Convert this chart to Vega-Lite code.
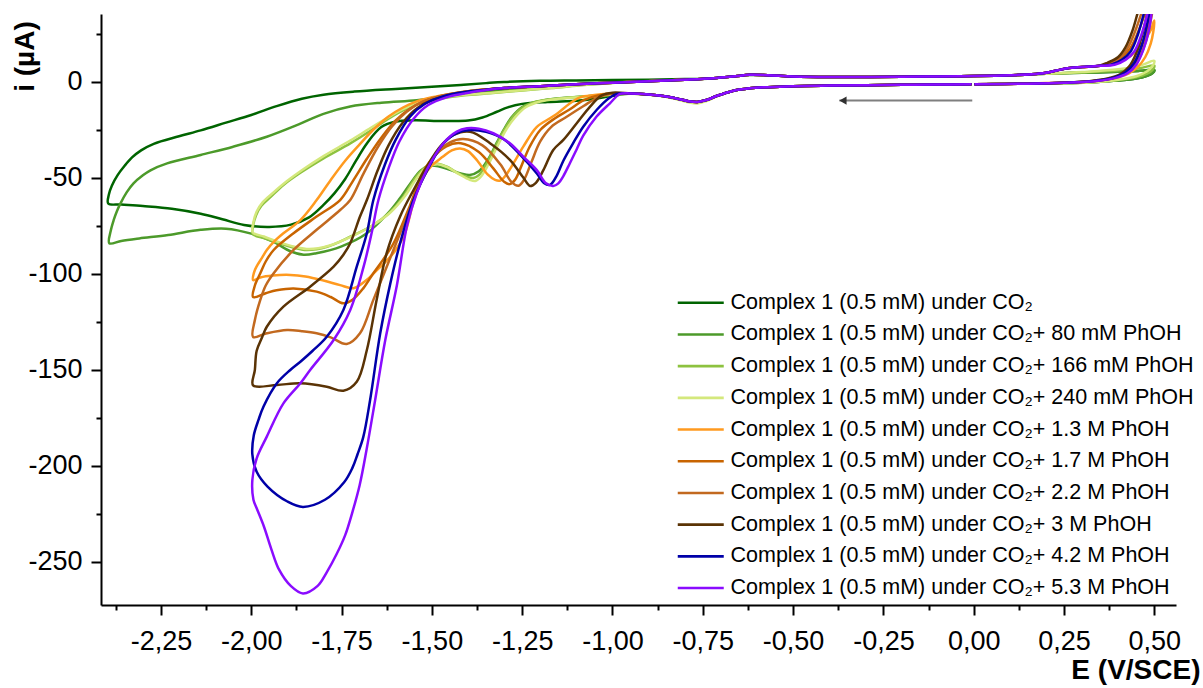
{
"$schema":"https://vega.github.io/schema/vega-lite/v6.json",
"width":1075,"height":591,
"autosize":{"type":"none"},
"padding":{"left":101,"top":14,"right":27,"bottom":83},
"background":"white",
"config":{"view":{"stroke":null},"font":"Liberation Sans","axis":{"grid":false,"domainColor":"#000","tickColor":"#000","labelColor":"#000","titleColor":"#000"}},
"datasets":{
"arrow":[{"x1":-0.004,"x2":-0.372,"xh":-0.362,"y":-9.7}],
"cv":[
{"s":"a","E":-0.006,"i":-1.2},{"s":"a","E":-0.1,"i":-1.3},{"s":"a","E":-0.2,"i":-1.5},{"s":"a","E":-0.3,"i":-1.7},{"s":"a","E":-0.4,"i":-1.9},{"s":"a","E":-0.5,"i":-2.2},{"s":"a","E":-0.57,"i":-2.7},{"s":"a","E":-0.62,"i":-3.3},{"s":"a","E":-0.67,"i":-4.8},{"s":"a","E":-0.71,"i":-7.2},{"s":"a","E":-0.74,"i":-9.4},{"s":"a","E":-0.765,"i":-10.4},{"s":"a","E":-0.79,"i":-10},{"s":"a","E":-0.82,"i":-8.7},{"s":"a","E":-0.86,"i":-7.3},{"s":"a","E":-0.9,"i":-6.5},{"s":"a","E":-0.95,"i":-6},
{"s":"a","E":-1.0,"i":-7.2},{"s":"a","E":-1.05,"i":-8.8},{"s":"a","E":-1.1,"i":-9.8},{"s":"a","E":-1.18,"i":-10.4},{"s":"a","E":-1.25,"i":-11.4},{"s":"a","E":-1.29,"i":-13.2},{"s":"a","E":-1.32,"i":-15.5},{"s":"a","E":-1.36,"i":-18.5},{"s":"a","E":-1.4,"i":-20.1},{"s":"a","E":-1.47,"i":-20.3},{"s":"a","E":-1.55,"i":-20},{"s":"a","E":-1.6,"i":-20.6},{"s":"a","E":-1.64,"i":-23.5},{"s":"a","E":-1.68,"i":-32},{"s":"a","E":-1.71,"i":-41},{"s":"a","E":-1.74,"i":-50.5},{"s":"a","E":-1.77,"i":-58},{"s":"a","E":-1.8,"i":-64},{"s":"a","E":-1.84,"i":-70.5},{"s":"a","E":-1.89,"i":-74.3},{"s":"a","E":-1.95,"i":-75.5},{"s":"a","E":-2.02,"i":-74.5},{"s":"a","E":-2.08,"i":-71.5},{"s":"a","E":-2.14,"i":-68.6},{"s":"a","E":-2.22,"i":-66},{"s":"a","E":-2.3,"i":-64.6},{"s":"a","E":-2.36,"i":-63.8},{"s":"a","E":-2.396,"i":-63.3},
{"s":"a","E":-2.394,"i":-58.5},{"s":"a","E":-2.386,"i":-54},{"s":"a","E":-2.37,"i":-48.5},{"s":"a","E":-2.35,"i":-43.5},{"s":"a","E":-2.33,"i":-39.3},{"s":"a","E":-2.305,"i":-35.6},{"s":"a","E":-2.27,"i":-32.2},{"s":"a","E":-2.2,"i":-28.3},{"s":"a","E":-2.14,"i":-25.2},{"s":"a","E":-2.07,"i":-21.2},{"s":"a","E":-2.0,"i":-17.2},{"s":"a","E":-1.93,"i":-12.6},{"s":"a","E":-1.86,"i":-8.7},{"s":"a","E":-1.8,"i":-6.6},{"s":"a","E":-1.715,"i":-5},{"s":"a","E":-1.6,"i":-3.6},{"s":"a","E":-1.5,"i":-2.5},{"s":"a","E":-1.42,"i":-1.6},{"s":"a","E":-1.35,"i":-0.6},{"s":"a","E":-1.3,"i":0},{"s":"a","E":-1.2,"i":0.6},{"s":"a","E":-1.1,"i":0.8},{"s":"a","E":-1.0,"i":1},{"s":"a","E":-0.9,"i":1.2},{"s":"a","E":-0.8,"i":1.5},{"s":"a","E":-0.72,"i":2},{"s":"a","E":-0.66,"i":3},{"s":"a","E":-0.62,"i":3.6},{"s":"a","E":-0.57,"i":3.5},{"s":"a","E":-0.5,"i":2.9},{"s":"a","E":-0.4,"i":2.6},{"s":"a","E":-0.3,"i":2.6},{"s":"a","E":-0.2,"i":2.7},{"s":"a","E":-0.1,"i":2.9},{"s":"a","E":0,"i":3.1},{"s":"a","E":0.1,"i":3.5},{"s":"a","E":0.16,"i":4},
{"s":"a","E":0.2,"i":4.3},{"s":"a","E":0.3,"i":4.8},{"s":"a","E":0.4,"i":5.3},{"s":"a","E":0.46,"i":5.8},{"s":"a","E":0.5,"i":6.2},{"s":"a","E":0.495,"i":4.6},{"s":"a","E":0.48,"i":3.2},{"s":"a","E":0.45,"i":1.8},{"s":"a","E":0.4,"i":0.7},{"s":"a","E":0.33,"i":-0.1},{"s":"a","E":0.25,"i":-0.6},{"s":"a","E":0.15,"i":-0.9},{"s":"a","E":0.05,"i":-1.1},{"s":"a","E":0.002,"i":-1.2},

{"s":"b","E":-0.006,"i":-1.2},{"s":"b","E":-0.1,"i":-1.3},{"s":"b","E":-0.2,"i":-1.5},{"s":"b","E":-0.3,"i":-1.7},{"s":"b","E":-0.4,"i":-1.9},{"s":"b","E":-0.5,"i":-2.2},{"s":"b","E":-0.57,"i":-2.7},{"s":"b","E":-0.62,"i":-3.3},{"s":"b","E":-0.67,"i":-4.8},{"s":"b","E":-0.71,"i":-7.2},{"s":"b","E":-0.74,"i":-9.4},{"s":"b","E":-0.765,"i":-10.4},{"s":"b","E":-0.79,"i":-10},{"s":"b","E":-0.82,"i":-8.7},{"s":"b","E":-0.86,"i":-7.3},{"s":"b","E":-0.9,"i":-6.5},{"s":"b","E":-0.95,"i":-6},
{"s":"b","E":-1.0,"i":-6.4},{"s":"b","E":-1.08,"i":-7.6},{"s":"b","E":-1.17,"i":-9},{"s":"b","E":-1.22,"i":-10.8},{"s":"b","E":-1.25,"i":-13},{"s":"b","E":-1.28,"i":-18.5},{"s":"b","E":-1.3,"i":-24.5},{"s":"b","E":-1.32,"i":-31.5},{"s":"b","E":-1.345,"i":-40.5},{"s":"b","E":-1.37,"i":-46.5},{"s":"b","E":-1.395,"i":-48.4},{"s":"b","E":-1.42,"i":-47.6},{"s":"b","E":-1.45,"i":-45.8},{"s":"b","E":-1.48,"i":-44},{"s":"b","E":-1.505,"i":-43.6},{"s":"b","E":-1.53,"i":-46},{"s":"b","E":-1.56,"i":-53},{"s":"b","E":-1.59,"i":-61},{"s":"b","E":-1.62,"i":-68},{"s":"b","E":-1.68,"i":-78.8},{"s":"b","E":-1.75,"i":-85.6},{"s":"b","E":-1.82,"i":-89.2},{"s":"b","E":-1.855,"i":-90},{"s":"b","E":-1.89,"i":-88.3},{"s":"b","E":-1.94,"i":-83.2},{"s":"b","E":-2.0,"i":-79},{"s":"b","E":-2.07,"i":-76.4},{"s":"b","E":-2.14,"i":-77},{"s":"b","E":-2.23,"i":-79.7},{"s":"b","E":-2.31,"i":-81.5},{"s":"b","E":-2.36,"i":-82.8},{"s":"b","E":-2.393,"i":-84},
{"s":"b","E":-2.389,"i":-77.5},{"s":"b","E":-2.381,"i":-72},{"s":"b","E":-2.372,"i":-67.3},{"s":"b","E":-2.362,"i":-63.2},{"s":"b","E":-2.345,"i":-57.5},{"s":"b","E":-2.326,"i":-52.8},{"s":"b","E":-2.3,"i":-48.6},{"s":"b","E":-2.279,"i":-46},{"s":"b","E":-2.233,"i":-42.4},{"s":"b","E":-2.14,"i":-38},{"s":"b","E":-2.05,"i":-33.7},{"s":"b","E":-1.957,"i":-28.5},{"s":"b","E":-1.864,"i":-21.7},{"s":"b","E":-1.8,"i":-16.6},{"s":"b","E":-1.726,"i":-12.8},{"s":"b","E":-1.64,"i":-10.8},{"s":"b","E":-1.542,"i":-9.5},{"s":"b","E":-1.45,"i":-7.5},{"s":"b","E":-1.35,"i":-5.3},{"s":"b","E":-1.25,"i":-3.3},{"s":"b","E":-1.15,"i":-1.8},{"s":"b","E":-1.05,"i":-0.7},{"s":"b","E":-0.95,"i":0.1},{"s":"b","E":-0.85,"i":0.9},{"s":"b","E":-0.8,"i":1.2},{"s":"b","E":-0.72,"i":2},{"s":"b","E":-0.66,"i":3},{"s":"b","E":-0.62,"i":3.7},{"s":"b","E":-0.57,"i":3.5},{"s":"b","E":-0.5,"i":2.9},{"s":"b","E":-0.4,"i":2.6},{"s":"b","E":-0.3,"i":2.6},{"s":"b","E":-0.2,"i":2.7},{"s":"b","E":-0.1,"i":2.9},{"s":"b","E":0,"i":3.1},{"s":"b","E":0.1,"i":3.5},{"s":"b","E":0.16,"i":4},
{"s":"b","E":0.2,"i":4.3},{"s":"b","E":0.3,"i":4.8},{"s":"b","E":0.4,"i":5.3},{"s":"b","E":0.46,"i":5.8},{"s":"b","E":0.5,"i":6.2},{"s":"b","E":0.495,"i":4.6},{"s":"b","E":0.48,"i":3.2},{"s":"b","E":0.45,"i":1.8},{"s":"b","E":0.4,"i":0.7},{"s":"b","E":0.33,"i":-0.1},{"s":"b","E":0.25,"i":-0.6},{"s":"b","E":0.15,"i":-0.9},{"s":"b","E":0.05,"i":-1.1},{"s":"b","E":0.002,"i":-1.2},

{"s":"c","E":-0.006,"i":-1.2},{"s":"c","E":-0.1,"i":-1.3},{"s":"c","E":-0.2,"i":-1.5},{"s":"c","E":-0.3,"i":-1.7},{"s":"c","E":-0.4,"i":-1.9},{"s":"c","E":-0.5,"i":-2.2},{"s":"c","E":-0.57,"i":-2.7},{"s":"c","E":-0.62,"i":-3.3},{"s":"c","E":-0.67,"i":-4.8},{"s":"c","E":-0.71,"i":-7.2},{"s":"c","E":-0.74,"i":-9.6},{"s":"c","E":-0.765,"i":-10.8},{"s":"c","E":-0.79,"i":-10.3},{"s":"c","E":-0.82,"i":-8.9},{"s":"c","E":-0.86,"i":-7.4},{"s":"c","E":-0.9,"i":-6.5},{"s":"c","E":-0.95,"i":-6},
{"s":"c","E":-1.0,"i":-6.4},{"s":"c","E":-1.08,"i":-7.6},{"s":"c","E":-1.15,"i":-8.6},{"s":"c","E":-1.21,"i":-10.2},{"s":"c","E":-1.25,"i":-13.5},{"s":"c","E":-1.28,"i":-19},{"s":"c","E":-1.3,"i":-25},{"s":"c","E":-1.325,"i":-34},{"s":"c","E":-1.35,"i":-43},{"s":"c","E":-1.37,"i":-48.5},{"s":"c","E":-1.385,"i":-50},{"s":"c","E":-1.4,"i":-49.6},{"s":"c","E":-1.43,"i":-47.2},{"s":"c","E":-1.46,"i":-44},{"s":"c","E":-1.49,"i":-42.4},{"s":"c","E":-1.52,"i":-44.5},{"s":"c","E":-1.55,"i":-51},{"s":"c","E":-1.58,"i":-60},{"s":"c","E":-1.62,"i":-68.5},{"s":"c","E":-1.662,"i":-74.5},{"s":"c","E":-1.726,"i":-80.6},{"s":"c","E":-1.79,"i":-85.8},{"s":"c","E":-1.846,"i":-87.5},{"s":"c","E":-1.885,"i":-86.2},{"s":"c","E":-1.93,"i":-83.5},{"s":"c","E":-1.965,"i":-81.3},{"s":"c","E":-1.996,"i":-79.2},
{"s":"c","E":-1.995,"i":-75},{"s":"c","E":-1.987,"i":-69.5},{"s":"c","E":-1.972,"i":-64.5},{"s":"c","E":-1.947,"i":-60},{"s":"c","E":-1.91,"i":-53.5},{"s":"c","E":-1.864,"i":-47.3},{"s":"c","E":-1.8,"i":-39.8},{"s":"c","E":-1.726,"i":-32},{"s":"c","E":-1.67,"i":-25.4},{"s":"c","E":-1.634,"i":-20.8},{"s":"c","E":-1.588,"i":-15.6},{"s":"c","E":-1.542,"i":-11.6},{"s":"c","E":-1.5,"i":-9.6},{"s":"c","E":-1.449,"i":-7.8},{"s":"c","E":-1.39,"i":-6.6},{"s":"c","E":-1.339,"i":-5.9},{"s":"c","E":-1.25,"i":-4.4},{"s":"c","E":-1.17,"i":-3.2},{"s":"c","E":-1.08,"i":-1.6},{"s":"c","E":-1.0,"i":-0.5},{"s":"c","E":-0.9,"i":0.4},{"s":"c","E":-0.8,"i":1.2},{"s":"c","E":-0.72,"i":2},{"s":"c","E":-0.66,"i":3},{"s":"c","E":-0.62,"i":3.7},{"s":"c","E":-0.57,"i":3.5},{"s":"c","E":-0.5,"i":2.9},{"s":"c","E":-0.4,"i":2.6},{"s":"c","E":-0.3,"i":2.6},{"s":"c","E":-0.2,"i":2.7},{"s":"c","E":-0.1,"i":2.9},{"s":"c","E":0,"i":3.1},{"s":"c","E":0.1,"i":3.5},{"s":"c","E":0.16,"i":4},
{"s":"c","E":0.2,"i":4.3},{"s":"c","E":0.3,"i":5},{"s":"c","E":0.4,"i":6},{"s":"c","E":0.46,"i":7.2},{"s":"c","E":0.5,"i":8.5},{"s":"c","E":0.495,"i":6.3},{"s":"c","E":0.48,"i":4.3},{"s":"c","E":0.45,"i":2.4},{"s":"c","E":0.4,"i":1},{"s":"c","E":0.33,"i":-0.1},{"s":"c","E":0.25,"i":-0.6},{"s":"c","E":0.15,"i":-0.9},{"s":"c","E":0.05,"i":-1.1},{"s":"c","E":0.002,"i":-1.2},

{"s":"d","E":-0.006,"i":-1.2},{"s":"d","E":-0.1,"i":-1.3},{"s":"d","E":-0.2,"i":-1.5},{"s":"d","E":-0.3,"i":-1.7},{"s":"d","E":-0.4,"i":-1.9},{"s":"d","E":-0.5,"i":-2.2},{"s":"d","E":-0.57,"i":-2.7},{"s":"d","E":-0.62,"i":-3.3},{"s":"d","E":-0.67,"i":-4.8},{"s":"d","E":-0.71,"i":-7.4},{"s":"d","E":-0.74,"i":-9.9},{"s":"d","E":-0.765,"i":-11.2},{"s":"d","E":-0.79,"i":-10.6},{"s":"d","E":-0.82,"i":-9.1},{"s":"d","E":-0.86,"i":-7.5},{"s":"d","E":-0.9,"i":-6.6},{"s":"d","E":-0.95,"i":-6.1},
{"s":"d","E":-1.0,"i":-6.6},{"s":"d","E":-1.08,"i":-7.8},{"s":"d","E":-1.15,"i":-8.8},{"s":"d","E":-1.2,"i":-10.2},{"s":"d","E":-1.24,"i":-13.2},{"s":"d","E":-1.27,"i":-18.5},{"s":"d","E":-1.295,"i":-25},{"s":"d","E":-1.32,"i":-34},{"s":"d","E":-1.345,"i":-43.5},{"s":"d","E":-1.365,"i":-49.5},{"s":"d","E":-1.38,"i":-51.6},{"s":"d","E":-1.395,"i":-51},{"s":"d","E":-1.425,"i":-48},{"s":"d","E":-1.455,"i":-44.6},{"s":"d","E":-1.485,"i":-42.8},{"s":"d","E":-1.515,"i":-44.6},{"s":"d","E":-1.545,"i":-51},{"s":"d","E":-1.575,"i":-59.5},{"s":"d","E":-1.615,"i":-68},{"s":"d","E":-1.66,"i":-74.2},{"s":"d","E":-1.72,"i":-80.3},{"s":"d","E":-1.785,"i":-85.3},{"s":"d","E":-1.84,"i":-87},{"s":"d","E":-1.88,"i":-85.8},{"s":"d","E":-1.93,"i":-83},{"s":"d","E":-1.965,"i":-80.5},{"s":"d","E":-1.996,"i":-78.3},
{"s":"d","E":-1.994,"i":-73},{"s":"d","E":-1.985,"i":-67.5},{"s":"d","E":-1.968,"i":-62.6},{"s":"d","E":-1.94,"i":-57.8},{"s":"d","E":-1.9,"i":-51.5},{"s":"d","E":-1.86,"i":-46},{"s":"d","E":-1.8,"i":-38.6},{"s":"d","E":-1.726,"i":-30.5},{"s":"d","E":-1.67,"i":-24},{"s":"d","E":-1.63,"i":-19.5},{"s":"d","E":-1.585,"i":-14.6},{"s":"d","E":-1.54,"i":-11},{"s":"d","E":-1.5,"i":-9.2},{"s":"d","E":-1.449,"i":-7.5},{"s":"d","E":-1.39,"i":-6.4},{"s":"d","E":-1.339,"i":-5.7},{"s":"d","E":-1.25,"i":-4.3},{"s":"d","E":-1.17,"i":-3.1},{"s":"d","E":-1.08,"i":-1.5},{"s":"d","E":-1.0,"i":-0.4},{"s":"d","E":-0.9,"i":0.4},{"s":"d","E":-0.8,"i":1.2},{"s":"d","E":-0.72,"i":2},{"s":"d","E":-0.66,"i":3},{"s":"d","E":-0.62,"i":3.7},{"s":"d","E":-0.57,"i":3.5},{"s":"d","E":-0.5,"i":2.9},{"s":"d","E":-0.4,"i":2.6},{"s":"d","E":-0.3,"i":2.6},{"s":"d","E":-0.2,"i":2.7},{"s":"d","E":-0.1,"i":2.9},{"s":"d","E":0,"i":3.1},{"s":"d","E":0.1,"i":3.5},{"s":"d","E":0.16,"i":4},
{"s":"d","E":0.2,"i":4.3},{"s":"d","E":0.3,"i":5.2},{"s":"d","E":0.4,"i":6.6},{"s":"d","E":0.46,"i":8.5},{"s":"d","E":0.5,"i":11},{"s":"d","E":0.495,"i":8.3},{"s":"d","E":0.48,"i":5.6},{"s":"d","E":0.45,"i":3},{"s":"d","E":0.4,"i":1.2},{"s":"d","E":0.33,"i":-0.1},{"s":"d","E":0.25,"i":-0.6},{"s":"d","E":0.15,"i":-0.9},{"s":"d","E":0.05,"i":-1.1},{"s":"d","E":0.002,"i":-1.2},

{"s":"e","E":-0.006,"i":-1.2},{"s":"e","E":-0.1,"i":-1.3},{"s":"e","E":-0.2,"i":-1.5},{"s":"e","E":-0.3,"i":-1.7},{"s":"e","E":-0.4,"i":-1.9},{"s":"e","E":-0.5,"i":-2.2},{"s":"e","E":-0.57,"i":-2.7},{"s":"e","E":-0.62,"i":-3.3},{"s":"e","E":-0.67,"i":-4.8},{"s":"e","E":-0.71,"i":-7.2},{"s":"e","E":-0.74,"i":-9.4},{"s":"e","E":-0.765,"i":-10.4},{"s":"e","E":-0.79,"i":-10},{"s":"e","E":-0.82,"i":-8.7},{"s":"e","E":-0.86,"i":-7.3},{"s":"e","E":-0.9,"i":-6.5},{"s":"e","E":-0.95,"i":-6},
{"s":"e","E":-1.0,"i":-6},{"s":"e","E":-1.05,"i":-6.8},{"s":"e","E":-1.09,"i":-8},{"s":"e","E":-1.12,"i":-11.5},{"s":"e","E":-1.15,"i":-16},{"s":"e","E":-1.173,"i":-18.9},{"s":"e","E":-1.21,"i":-23.5},{"s":"e","E":-1.247,"i":-33.7},{"s":"e","E":-1.274,"i":-42.3},{"s":"e","E":-1.295,"i":-48.5},{"s":"e","E":-1.31,"i":-51.3},{"s":"e","E":-1.325,"i":-51},{"s":"e","E":-1.345,"i":-48.3},{"s":"e","E":-1.376,"i":-40.6},{"s":"e","E":-1.4,"i":-36},{"s":"e","E":-1.422,"i":-34.6},{"s":"e","E":-1.445,"i":-35.6},{"s":"e","E":-1.47,"i":-39},{"s":"e","E":-1.5,"i":-43.5},{"s":"e","E":-1.525,"i":-50},{"s":"e","E":-1.55,"i":-62},{"s":"e","E":-1.575,"i":-79},{"s":"e","E":-1.6,"i":-87.5},{"s":"e","E":-1.625,"i":-93},{"s":"e","E":-1.655,"i":-98.5},{"s":"e","E":-1.68,"i":-103},{"s":"e","E":-1.717,"i":-107.4},{"s":"e","E":-1.754,"i":-105.8},{"s":"e","E":-1.8,"i":-103.4},{"s":"e","E":-1.85,"i":-101.3},{"s":"e","E":-1.892,"i":-100.5},{"s":"e","E":-1.94,"i":-100.8},{"s":"e","E":-1.975,"i":-101.8},{"s":"e","E":-1.995,"i":-103.2},
{"s":"e","E":-1.992,"i":-99},{"s":"e","E":-1.985,"i":-96},{"s":"e","E":-1.97,"i":-91.5},{"s":"e","E":-1.957,"i":-87.5},{"s":"e","E":-1.935,"i":-82.8},{"s":"e","E":-1.911,"i":-78.8},{"s":"e","E":-1.864,"i":-71.9},{"s":"e","E":-1.819,"i":-61.5},{"s":"e","E":-1.78,"i":-51},{"s":"e","E":-1.74,"i":-41},{"s":"e","E":-1.7,"i":-32.5},{"s":"e","E":-1.66,"i":-24.5},{"s":"e","E":-1.62,"i":-18},{"s":"e","E":-1.58,"i":-13.3},{"s":"e","E":-1.54,"i":-10},{"s":"e","E":-1.5,"i":-8},{"s":"e","E":-1.45,"i":-6.2},{"s":"e","E":-1.4,"i":-4.8},{"s":"e","E":-1.35,"i":-3.8},
{"s":"e","E":-1.3,"i":-3.2},{"s":"e","E":-1.2,"i":-2.2},{"s":"e","E":-1.1,"i":-1.2},{"s":"e","E":-1.0,"i":-0.4},{"s":"e","E":-0.9,"i":0.4},{"s":"e","E":-0.8,"i":1.2},{"s":"e","E":-0.72,"i":2},{"s":"e","E":-0.66,"i":3},{"s":"e","E":-0.62,"i":3.7},{"s":"e","E":-0.57,"i":3.5},{"s":"e","E":-0.5,"i":2.9},{"s":"e","E":-0.4,"i":2.6},{"s":"e","E":-0.3,"i":2.6},{"s":"e","E":-0.2,"i":2.7},{"s":"e","E":-0.1,"i":2.9},{"s":"e","E":0,"i":3.1},{"s":"e","E":0.1,"i":3.5},{"s":"e","E":0.16,"i":4},
{"s":"e","E":0.2,"i":4.8},{"s":"e","E":0.23,"i":6},{"s":"e","E":0.26,"i":7.2},{"s":"e","E":0.3,"i":7.8},{"s":"e","E":0.35,"i":8.4},{"s":"e","E":0.38,"i":9.5},{"s":"e","E":0.42,"i":12},{"s":"e","E":0.45,"i":16},{"s":"e","E":0.47,"i":21},{"s":"e","E":0.49,"i":27},{"s":"e","E":0.5,"i":32},{"s":"e","E":0.497,"i":26},{"s":"e","E":0.49,"i":20},{"s":"e","E":0.475,"i":13},{"s":"e","E":0.455,"i":8},{"s":"e","E":0.43,"i":4.5},{"s":"e","E":0.4,"i":2.5},{"s":"e","E":0.35,"i":0.8},{"s":"e","E":0.28,"i":-0.2},{"s":"e","E":0.2,"i":-0.6},{"s":"e","E":0.1,"i":-1},{"s":"e","E":0.002,"i":-1.2},

{"s":"f","E":-0.006,"i":-1.2},{"s":"f","E":-0.1,"i":-1.3},{"s":"f","E":-0.2,"i":-1.5},{"s":"f","E":-0.3,"i":-1.7},{"s":"f","E":-0.4,"i":-1.9},{"s":"f","E":-0.5,"i":-2.2},{"s":"f","E":-0.57,"i":-2.7},{"s":"f","E":-0.62,"i":-3.3},{"s":"f","E":-0.67,"i":-4.8},{"s":"f","E":-0.71,"i":-7.2},{"s":"f","E":-0.74,"i":-9.4},{"s":"f","E":-0.765,"i":-10.4},{"s":"f","E":-0.79,"i":-10},{"s":"f","E":-0.82,"i":-8.7},{"s":"f","E":-0.86,"i":-7.3},{"s":"f","E":-0.9,"i":-6.5},{"s":"f","E":-0.95,"i":-6},
{"s":"f","E":-1.0,"i":-6},{"s":"f","E":-1.04,"i":-7},{"s":"f","E":-1.08,"i":-9.5},{"s":"f","E":-1.12,"i":-14.5},{"s":"f","E":-1.16,"i":-19},{"s":"f","E":-1.2,"i":-25},{"s":"f","E":-1.23,"i":-34},{"s":"f","E":-1.255,"i":-45},{"s":"f","E":-1.27,"i":-51},{"s":"f","E":-1.285,"i":-53.2},{"s":"f","E":-1.3,"i":-52},{"s":"f","E":-1.33,"i":-45},{"s":"f","E":-1.37,"i":-36.5},{"s":"f","E":-1.42,"i":-31.9},{"s":"f","E":-1.46,"i":-33.5},{"s":"f","E":-1.5,"i":-40},{"s":"f","E":-1.53,"i":-49},{"s":"f","E":-1.56,"i":-64},{"s":"f","E":-1.606,"i":-84},{"s":"f","E":-1.635,"i":-92.5},{"s":"f","E":-1.662,"i":-99.6},{"s":"f","E":-1.69,"i":-107.5},{"s":"f","E":-1.72,"i":-113.5},{"s":"f","E":-1.745,"i":-115.3},{"s":"f","E":-1.78,"i":-112},{"s":"f","E":-1.819,"i":-109.2},{"s":"f","E":-1.883,"i":-107.5},{"s":"f","E":-1.93,"i":-108.5},{"s":"f","E":-1.96,"i":-110},{"s":"f","E":-1.995,"i":-112},
{"s":"f","E":-1.99,"i":-106},{"s":"f","E":-1.975,"i":-99.6},{"s":"f","E":-1.96,"i":-93.5},{"s":"f","E":-1.938,"i":-87.5},{"s":"f","E":-1.883,"i":-78.8},{"s":"f","E":-1.819,"i":-70.1},{"s":"f","E":-1.754,"i":-61.5},{"s":"f","E":-1.72,"i":-52},{"s":"f","E":-1.68,"i":-40},{"s":"f","E":-1.64,"i":-29},{"s":"f","E":-1.6,"i":-20},{"s":"f","E":-1.56,"i":-13.8},{"s":"f","E":-1.52,"i":-10},{"s":"f","E":-1.47,"i":-7.2},{"s":"f","E":-1.41,"i":-5.2},{"s":"f","E":-1.35,"i":-3.9},
{"s":"f","E":-1.3,"i":-3.2},{"s":"f","E":-1.2,"i":-2.2},{"s":"f","E":-1.1,"i":-1.2},{"s":"f","E":-1.0,"i":-0.4},{"s":"f","E":-0.9,"i":0.4},{"s":"f","E":-0.8,"i":1.2},{"s":"f","E":-0.72,"i":2},{"s":"f","E":-0.66,"i":3},{"s":"f","E":-0.62,"i":3.7},{"s":"f","E":-0.57,"i":3.5},{"s":"f","E":-0.5,"i":2.9},{"s":"f","E":-0.4,"i":2.6},{"s":"f","E":-0.3,"i":2.6},{"s":"f","E":-0.2,"i":2.7},{"s":"f","E":-0.1,"i":2.9},{"s":"f","E":0,"i":3.1},{"s":"f","E":0.1,"i":3.5},{"s":"f","E":0.16,"i":4},
{"s":"f","E":0.2,"i":4.8},{"s":"f","E":0.23,"i":6},{"s":"f","E":0.26,"i":7.2},{"s":"f","E":0.3,"i":7.8},{"s":"f","E":0.35,"i":8.4},{"s":"f","E":0.38,"i":9.5},{"s":"f","E":0.41,"i":12.5},{"s":"f","E":0.435,"i":18},{"s":"f","E":0.455,"i":26},{"s":"f","E":0.475,"i":36},{"s":"f","E":0.5,"i":48},{"s":"f","E":0.497,"i":40},{"s":"f","E":0.49,"i":32},{"s":"f","E":0.478,"i":22},{"s":"f","E":0.46,"i":13},{"s":"f","E":0.44,"i":7},{"s":"f","E":0.415,"i":3.8},{"s":"f","E":0.38,"i":1.8},{"s":"f","E":0.33,"i":0.4},{"s":"f","E":0.25,"i":-0.4},{"s":"f","E":0.15,"i":-0.9},{"s":"f","E":0.002,"i":-1.2},

{"s":"g","E":-0.006,"i":-1.2},{"s":"g","E":-0.1,"i":-1.3},{"s":"g","E":-0.2,"i":-1.5},{"s":"g","E":-0.3,"i":-1.7},{"s":"g","E":-0.4,"i":-1.9},{"s":"g","E":-0.5,"i":-2.2},{"s":"g","E":-0.57,"i":-2.7},{"s":"g","E":-0.62,"i":-3.3},{"s":"g","E":-0.67,"i":-4.8},{"s":"g","E":-0.71,"i":-7.2},{"s":"g","E":-0.74,"i":-9.4},{"s":"g","E":-0.765,"i":-10.4},{"s":"g","E":-0.79,"i":-10},{"s":"g","E":-0.82,"i":-8.7},{"s":"g","E":-0.86,"i":-7.3},{"s":"g","E":-0.9,"i":-6.5},{"s":"g","E":-0.95,"i":-6},
{"s":"g","E":-1.0,"i":-6},{"s":"g","E":-1.04,"i":-8},{"s":"g","E":-1.08,"i":-12.5},{"s":"g","E":-1.13,"i":-18.5},{"s":"g","E":-1.17,"i":-23.5},{"s":"g","E":-1.2,"i":-31},{"s":"g","E":-1.225,"i":-42},{"s":"g","E":-1.245,"i":-51},{"s":"g","E":-1.26,"i":-54},{"s":"g","E":-1.28,"i":-52},{"s":"g","E":-1.31,"i":-43},{"s":"g","E":-1.36,"i":-33},{"s":"g","E":-1.413,"i":-29.7},{"s":"g","E":-1.45,"i":-31.5},{"s":"g","E":-1.49,"i":-38},{"s":"g","E":-1.52,"i":-48},{"s":"g","E":-1.551,"i":-61.5},{"s":"g","E":-1.588,"i":-78.8},{"s":"g","E":-1.625,"i":-96.2},{"s":"g","E":-1.662,"i":-113.5},{"s":"g","E":-1.699,"i":-130.9},{"s":"g","E":-1.736,"i":-136.5},{"s":"g","E":-1.78,"i":-133},{"s":"g","E":-1.819,"i":-130.9},{"s":"g","E":-1.86,"i":-129.8},{"s":"g","E":-1.901,"i":-129.2},{"s":"g","E":-1.957,"i":-130.9},{"s":"g","E":-1.995,"i":-132.8},
{"s":"g","E":-1.99,"i":-124},{"s":"g","E":-1.975,"i":-113.5},{"s":"g","E":-1.96,"i":-106},{"s":"g","E":-1.938,"i":-99.6},{"s":"g","E":-1.883,"i":-87.5},{"s":"g","E":-1.819,"i":-77},{"s":"g","E":-1.754,"i":-66.7},{"s":"g","E":-1.726,"i":-61.5},{"s":"g","E":-1.69,"i":-48},{"s":"g","E":-1.65,"i":-34},{"s":"g","E":-1.61,"i":-23},{"s":"g","E":-1.57,"i":-15.5},{"s":"g","E":-1.53,"i":-10.6},{"s":"g","E":-1.48,"i":-7.5},{"s":"g","E":-1.42,"i":-5.3},{"s":"g","E":-1.35,"i":-3.9},
{"s":"g","E":-1.3,"i":-3.2},{"s":"g","E":-1.2,"i":-2.2},{"s":"g","E":-1.1,"i":-1.2},{"s":"g","E":-1.0,"i":-0.4},{"s":"g","E":-0.9,"i":0.4},{"s":"g","E":-0.8,"i":1.2},{"s":"g","E":-0.72,"i":2},{"s":"g","E":-0.66,"i":3},{"s":"g","E":-0.62,"i":3.7},{"s":"g","E":-0.57,"i":3.5},{"s":"g","E":-0.5,"i":2.9},{"s":"g","E":-0.4,"i":2.6},{"s":"g","E":-0.3,"i":2.6},{"s":"g","E":-0.2,"i":2.7},{"s":"g","E":-0.1,"i":2.9},{"s":"g","E":0,"i":3.1},{"s":"g","E":0.1,"i":3.5},{"s":"g","E":0.16,"i":4},
{"s":"g","E":0.2,"i":4.8},{"s":"g","E":0.23,"i":6},{"s":"g","E":0.26,"i":7.2},{"s":"g","E":0.3,"i":7.8},{"s":"g","E":0.35,"i":8.4},{"s":"g","E":0.38,"i":10},{"s":"g","E":0.41,"i":13.5},{"s":"g","E":0.43,"i":19},{"s":"g","E":0.45,"i":28},{"s":"g","E":0.47,"i":39},{"s":"g","E":0.5,"i":55},{"s":"g","E":0.497,"i":45},{"s":"g","E":0.49,"i":36},{"s":"g","E":0.475,"i":24},{"s":"g","E":0.455,"i":14},{"s":"g","E":0.435,"i":7.5},{"s":"g","E":0.41,"i":4},{"s":"g","E":0.38,"i":2},{"s":"g","E":0.33,"i":0.5},{"s":"g","E":0.25,"i":-0.4},{"s":"g","E":0.15,"i":-0.9},{"s":"g","E":0.002,"i":-1.2},

{"s":"h","E":-0.006,"i":-1.2},{"s":"h","E":-0.1,"i":-1.3},{"s":"h","E":-0.2,"i":-1.5},{"s":"h","E":-0.3,"i":-1.7},{"s":"h","E":-0.4,"i":-1.9},{"s":"h","E":-0.5,"i":-2.2},{"s":"h","E":-0.57,"i":-2.7},{"s":"h","E":-0.62,"i":-3.3},{"s":"h","E":-0.67,"i":-4.8},{"s":"h","E":-0.71,"i":-7.2},{"s":"h","E":-0.74,"i":-9.4},{"s":"h","E":-0.765,"i":-10.4},{"s":"h","E":-0.79,"i":-10},{"s":"h","E":-0.82,"i":-8.7},{"s":"h","E":-0.86,"i":-7.3},{"s":"h","E":-0.9,"i":-6.5},{"s":"h","E":-0.95,"i":-6},
{"s":"h","E":-1.0,"i":-5.6},{"s":"h","E":-1.03,"i":-7},{"s":"h","E":-1.062,"i":-12.8},{"s":"h","E":-1.099,"i":-21.5},{"s":"h","E":-1.136,"i":-30.2},{"s":"h","E":-1.164,"i":-35.4},{"s":"h","E":-1.191,"i":-45.8},{"s":"h","E":-1.212,"i":-52.5},{"s":"h","E":-1.228,"i":-54.2},{"s":"h","E":-1.247,"i":-49.8},{"s":"h","E":-1.284,"i":-40.6},{"s":"h","E":-1.339,"i":-31.9},{"s":"h","E":-1.394,"i":-25.9},{"s":"h","E":-1.44,"i":-27.6},{"s":"h","E":-1.477,"i":-33.7},{"s":"h","E":-1.514,"i":-44.1},{"s":"h","E":-1.55,"i":-56},{"s":"h","E":-1.588,"i":-70},{"s":"h","E":-1.625,"i":-89},{"s":"h","E":-1.653,"i":-113.5},{"s":"h","E":-1.68,"i":-139.6},{"s":"h","E":-1.708,"i":-156.1},{"s":"h","E":-1.745,"i":-160.8},{"s":"h","E":-1.791,"i":-158.7},{"s":"h","E":-1.864,"i":-156.9},{"s":"h","E":-1.929,"i":-157.8},{"s":"h","E":-1.995,"i":-158},
{"s":"h","E":-1.99,"i":-150},{"s":"h","E":-1.985,"i":-140},{"s":"h","E":-1.97,"i":-133},{"s":"h","E":-1.957,"i":-127.5},{"s":"h","E":-1.911,"i":-117},{"s":"h","E":-1.837,"i":-106.6},{"s":"h","E":-1.772,"i":-96.2},{"s":"h","E":-1.745,"i":-90},{"s":"h","E":-1.726,"i":-84},{"s":"h","E":-1.699,"i":-70.1},{"s":"h","E":-1.68,"i":-61.5},{"s":"h","E":-1.65,"i":-46},{"s":"h","E":-1.62,"i":-33},{"s":"h","E":-1.58,"i":-21},{"s":"h","E":-1.54,"i":-13.5},{"s":"h","E":-1.5,"i":-9.5},{"s":"h","E":-1.45,"i":-7},{"s":"h","E":-1.4,"i":-5.3},{"s":"h","E":-1.35,"i":-4},
{"s":"h","E":-1.3,"i":-3.2},{"s":"h","E":-1.2,"i":-2.2},{"s":"h","E":-1.1,"i":-1.2},{"s":"h","E":-1.0,"i":-0.4},{"s":"h","E":-0.9,"i":0.4},{"s":"h","E":-0.8,"i":1.2},{"s":"h","E":-0.72,"i":2},{"s":"h","E":-0.66,"i":3},{"s":"h","E":-0.62,"i":3.7},{"s":"h","E":-0.57,"i":3.5},{"s":"h","E":-0.5,"i":2.9},{"s":"h","E":-0.4,"i":2.6},{"s":"h","E":-0.3,"i":2.6},{"s":"h","E":-0.2,"i":2.7},{"s":"h","E":-0.1,"i":2.9},{"s":"h","E":0,"i":3.1},{"s":"h","E":0.1,"i":3.5},{"s":"h","E":0.16,"i":4},
{"s":"h","E":0.2,"i":4.8},{"s":"h","E":0.23,"i":6},{"s":"h","E":0.26,"i":7.2},{"s":"h","E":0.3,"i":7.8},{"s":"h","E":0.35,"i":8.6},{"s":"h","E":0.37,"i":10},{"s":"h","E":0.4,"i":13},{"s":"h","E":0.42,"i":18},{"s":"h","E":0.44,"i":27},{"s":"h","E":0.46,"i":40},{"s":"h","E":0.5,"i":62},{"s":"h","E":0.495,"i":50},{"s":"h","E":0.485,"i":40},{"s":"h","E":0.47,"i":27},{"s":"h","E":0.45,"i":15},{"s":"h","E":0.43,"i":8},{"s":"h","E":0.405,"i":4},{"s":"h","E":0.37,"i":1.8},{"s":"h","E":0.32,"i":0.4},{"s":"h","E":0.25,"i":-0.4},{"s":"h","E":0.15,"i":-0.9},{"s":"h","E":0.002,"i":-1.2},

{"s":"i","E":-0.006,"i":-1.2},{"s":"i","E":-0.1,"i":-1.3},{"s":"i","E":-0.2,"i":-1.5},{"s":"i","E":-0.3,"i":-1.7},{"s":"i","E":-0.4,"i":-1.9},{"s":"i","E":-0.5,"i":-2.2},{"s":"i","E":-0.57,"i":-2.7},{"s":"i","E":-0.62,"i":-3.3},{"s":"i","E":-0.67,"i":-4.8},{"s":"i","E":-0.71,"i":-7.2},{"s":"i","E":-0.74,"i":-9.4},{"s":"i","E":-0.765,"i":-10.4},{"s":"i","E":-0.79,"i":-10},{"s":"i","E":-0.82,"i":-8.7},{"s":"i","E":-0.86,"i":-7.3},{"s":"i","E":-0.9,"i":-6.5},{"s":"i","E":-0.95,"i":-6},
{"s":"i","E":-0.988,"i":-6.2},{"s":"i","E":-1.01,"i":-8.5},{"s":"i","E":-1.044,"i":-14.6},{"s":"i","E":-1.081,"i":-23.3},{"s":"i","E":-1.11,"i":-32.2},{"s":"i","E":-1.136,"i":-41},{"s":"i","E":-1.155,"i":-49},{"s":"i","E":-1.173,"i":-53.6},{"s":"i","E":-1.19,"i":-52.6},{"s":"i","E":-1.21,"i":-47.5},{"s":"i","E":-1.25,"i":-39},{"s":"i","E":-1.3,"i":-30},{"s":"i","E":-1.35,"i":-26},{"s":"i","E":-1.394,"i":-25},{"s":"i","E":-1.43,"i":-26.5},{"s":"i","E":-1.468,"i":-32},{"s":"i","E":-1.51,"i":-45},{"s":"i","E":-1.551,"i":-61.5},{"s":"i","E":-1.588,"i":-84},{"s":"i","E":-1.615,"i":-104.9},{"s":"i","E":-1.643,"i":-130.9},{"s":"i","E":-1.671,"i":-165.6},{"s":"i","E":-1.69,"i":-185},{"s":"i","E":-1.706,"i":-194},{"s":"i","E":-1.72,"i":-201},{"s":"i","E":-1.743,"i":-208.5},{"s":"i","E":-1.796,"i":-217.6},{"s":"i","E":-1.857,"i":-221.3},{"s":"i","E":-1.9,"i":-218.5},{"s":"i","E":-1.955,"i":-210.7},{"s":"i","E":-1.985,"i":-203},{"s":"i","E":-1.997,"i":-194},
{"s":"i","E":-1.993,"i":-184},{"s":"i","E":-1.98,"i":-176},{"s":"i","E":-1.966,"i":-169},{"s":"i","E":-1.929,"i":-156.9},{"s":"i","E":-1.892,"i":-150},{"s":"i","E":-1.864,"i":-145.7},{"s":"i","E":-1.83,"i":-140},{"s":"i","E":-1.791,"i":-132.7},{"s":"i","E":-1.745,"i":-118.75},{"s":"i","E":-1.708,"i":-96.2},{"s":"i","E":-1.68,"i":-78.8},{"s":"i","E":-1.662,"i":-61.5},{"s":"i","E":-1.63,"i":-43},{"s":"i","E":-1.6,"i":-30},{"s":"i","E":-1.56,"i":-18},{"s":"i","E":-1.52,"i":-11.5},{"s":"i","E":-1.47,"i":-7.5},{"s":"i","E":-1.42,"i":-5.5},{"s":"i","E":-1.35,"i":-4},
{"s":"i","E":-1.3,"i":-3.2},{"s":"i","E":-1.2,"i":-2.2},{"s":"i","E":-1.1,"i":-1.2},{"s":"i","E":-1.0,"i":-0.4},{"s":"i","E":-0.9,"i":0.4},{"s":"i","E":-0.8,"i":1.2},{"s":"i","E":-0.72,"i":2},{"s":"i","E":-0.66,"i":3},{"s":"i","E":-0.62,"i":3.7},{"s":"i","E":-0.57,"i":3.5},{"s":"i","E":-0.5,"i":2.9},{"s":"i","E":-0.4,"i":2.6},{"s":"i","E":-0.3,"i":2.6},{"s":"i","E":-0.2,"i":2.7},{"s":"i","E":-0.1,"i":2.9},{"s":"i","E":0,"i":3.1},{"s":"i","E":0.1,"i":3.5},{"s":"i","E":0.16,"i":4},
{"s":"i","E":0.2,"i":4.8},{"s":"i","E":0.23,"i":6},{"s":"i","E":0.26,"i":7.2},{"s":"i","E":0.3,"i":7.8},{"s":"i","E":0.35,"i":8.4},{"s":"i","E":0.38,"i":9},{"s":"i","E":0.41,"i":11.5},{"s":"i","E":0.435,"i":16},{"s":"i","E":0.455,"i":25},{"s":"i","E":0.47,"i":35},{"s":"i","E":0.5,"i":58},{"s":"i","E":0.497,"i":50},{"s":"i","E":0.49,"i":40},{"s":"i","E":0.48,"i":30},{"s":"i","E":0.465,"i":19},{"s":"i","E":0.445,"i":10},{"s":"i","E":0.42,"i":5},{"s":"i","E":0.39,"i":2.3},{"s":"i","E":0.34,"i":0.6},{"s":"i","E":0.25,"i":-0.4},{"s":"i","E":0.15,"i":-0.9},{"s":"i","E":0.002,"i":-1.2},

{"s":"j","E":-0.006,"i":-1.2},{"s":"j","E":-0.1,"i":-1.3},{"s":"j","E":-0.2,"i":-1.5},{"s":"j","E":-0.3,"i":-1.7},{"s":"j","E":-0.4,"i":-1.9},{"s":"j","E":-0.5,"i":-2.2},{"s":"j","E":-0.57,"i":-2.7},{"s":"j","E":-0.62,"i":-3.3},{"s":"j","E":-0.67,"i":-4.8},{"s":"j","E":-0.71,"i":-7.2},{"s":"j","E":-0.74,"i":-9.4},{"s":"j","E":-0.765,"i":-10.4},{"s":"j","E":-0.79,"i":-10},{"s":"j","E":-0.82,"i":-8.7},{"s":"j","E":-0.86,"i":-7.3},{"s":"j","E":-0.9,"i":-6.5},{"s":"j","E":-0.95,"i":-6},
{"s":"j","E":-0.979,"i":-6.2},{"s":"j","E":-1.007,"i":-11.1},{"s":"j","E":-1.044,"i":-18},{"s":"j","E":-1.081,"i":-28},{"s":"j","E":-1.099,"i":-35},{"s":"j","E":-1.118,"i":-42.3},{"s":"j","E":-1.136,"i":-49},{"s":"j","E":-1.15,"i":-52.8},{"s":"j","E":-1.164,"i":-54.2},{"s":"j","E":-1.184,"i":-52.8},{"s":"j","E":-1.21,"i":-45.8},{"s":"j","E":-1.247,"i":-38.9},{"s":"j","E":-1.284,"i":-31.9},{"s":"j","E":-1.33,"i":-26.7},{"s":"j","E":-1.37,"i":-24.3},{"s":"j","E":-1.403,"i":-24.1},{"s":"j","E":-1.431,"i":-25.9},{"s":"j","E":-1.468,"i":-31.9},{"s":"j","E":-1.514,"i":-45.8},{"s":"j","E":-1.542,"i":-58},{"s":"j","E":-1.569,"i":-75},{"s":"j","E":-1.597,"i":-106},{"s":"j","E":-1.629,"i":-134.4},{"s":"j","E":-1.657,"i":-165.6},{"s":"j","E":-1.681,"i":-191.7},{"s":"j","E":-1.7,"i":-210},{"s":"j","E":-1.72,"i":-224},{"s":"j","E":-1.74,"i":-236},{"s":"j","E":-1.764,"i":-246},{"s":"j","E":-1.79,"i":-255},{"s":"j","E":-1.817,"i":-262.6},{"s":"j","E":-1.857,"i":-266.4},{"s":"j","E":-1.89,"i":-262.6},{"s":"j","E":-1.923,"i":-254},{"s":"j","E":-1.945,"i":-243},{"s":"j","E":-1.965,"i":-231.5},{"s":"j","E":-1.985,"i":-222},{"s":"j","E":-1.994,"i":-217.6},{"s":"j","E":-1.997,"i":-207.3},
{"s":"j","E":-1.985,"i":-196},{"s":"j","E":-1.957,"i":-184.7},{"s":"j","E":-1.911,"i":-167.4},{"s":"j","E":-1.864,"i":-156.9},{"s":"j","E":-1.837,"i":-150},{"s":"j","E":-1.772,"i":-134.4},{"s":"j","E":-1.726,"i":-118.75},{"s":"j","E":-1.689,"i":-96.2},{"s":"j","E":-1.667,"i":-78.8},{"s":"j","E":-1.648,"i":-61.5},{"s":"j","E":-1.62,"i":-45},{"s":"j","E":-1.59,"i":-31},{"s":"j","E":-1.55,"i":-19},{"s":"j","E":-1.51,"i":-12},{"s":"j","E":-1.46,"i":-8},{"s":"j","E":-1.41,"i":-6},{"s":"j","E":-1.35,"i":-4.2},
{"s":"j","E":-1.3,"i":-3.2},{"s":"j","E":-1.2,"i":-2.2},{"s":"j","E":-1.1,"i":-1.2},{"s":"j","E":-1.0,"i":-0.4},{"s":"j","E":-0.9,"i":0.4},{"s":"j","E":-0.8,"i":1.2},{"s":"j","E":-0.72,"i":2},{"s":"j","E":-0.66,"i":3},{"s":"j","E":-0.62,"i":3.7},{"s":"j","E":-0.57,"i":3.5},{"s":"j","E":-0.5,"i":2.9},{"s":"j","E":-0.4,"i":2.6},{"s":"j","E":-0.3,"i":2.6},{"s":"j","E":-0.2,"i":2.7},{"s":"j","E":-0.1,"i":2.9},{"s":"j","E":0,"i":3.1},{"s":"j","E":0.1,"i":3.5},{"s":"j","E":0.16,"i":4},
{"s":"j","E":0.2,"i":4.8},{"s":"j","E":0.23,"i":6},{"s":"j","E":0.26,"i":7.2},{"s":"j","E":0.3,"i":7.8},{"s":"j","E":0.35,"i":8.4},{"s":"j","E":0.39,"i":9},{"s":"j","E":0.42,"i":11.5},{"s":"j","E":0.445,"i":16},{"s":"j","E":0.465,"i":25},{"s":"j","E":0.48,"i":35},{"s":"j","E":0.5,"i":52},{"s":"j","E":0.498,"i":46},{"s":"j","E":0.493,"i":37},{"s":"j","E":0.485,"i":27},{"s":"j","E":0.47,"i":17},{"s":"j","E":0.45,"i":9},{"s":"j","E":0.425,"i":4.5},{"s":"j","E":0.39,"i":2},{"s":"j","E":0.34,"i":0.5},{"s":"j","E":0.25,"i":-0.4},{"s":"j","E":0.15,"i":-0.9},{"s":"j","E":0.002,"i":-1.2}
]},
"layer":[
{"data":{"name":"cv"},
 "mark":{"type":"line","strokeWidth":2.5,"interpolate":"catmull-rom","clip":true},
 "encoding":{
  "x":{"field":"E","type":"quantitative","scale":{"domain":[-2.416,0.56],"nice":false,"zero":false},
       "axis":{"orient":"bottom","values":[-2.25,-2,-1.75,-1.5,-1.25,-1,-0.75,-0.5,-0.25,0,0.25,0.5],
               "labelExpr":"(datum.value < 0 ? '-' : '') + replace(format(abs(datum.value), '.2f'), '.', ',')",
               "labelFontSize":27,"labelPadding":13,"labelFlush":false,"labelOverlap":false,
               "tickSize":10,"tickWidth":2,"domainWidth":2,
               "title":"E (V/SCE)","titleFontSize":28,"titleFontWeight":"bold",
               "titleX":1099,"titleY":65,"titleAlign":"right","titleBaseline":"middle","titleAnchor":"end"}},
  "y":{"field":"i","type":"quantitative","scale":{"domain":[-272.4,35.4],"nice":false,"zero":false},
       "axis":{"orient":"left","values":[-250,-200,-150,-100,-50,0],
               "labelExpr":"(datum.value < 0 ? '-' : '') + abs(datum.value)",
               "labelFontSize":27,"labelPadding":9,"labelFlush":false,"labelOverlap":false,
               "tickSize":10,"tickWidth":2,"domainWidth":2,
               "title":"i (µA)","titleFontSize":28,"titleFontWeight":"bold","titleAngle":270,
               "titleX":-76,"titleY":42,"titleAlign":"center","titleBaseline":"middle"}},
  "color":{"field":"s","type":"nominal",
           "scale":{"domain":["a","b","c","d","e","f","g","h","i","j"],
                    "range":["#006400","#4c9a2a","#8dc23f","#d4e87c","#ff9a1f","#c86400","#c2691f","#5a3305","#0000a8","#8a0cff"]},
           "legend":{"orient":"none","legendX":589,"legendY":278,"title":null,"padding":0,
                     "symbolType":"M-4,0H4","symbolSize":132.25,"symbolStrokeWidth":2.6,
                     "labelFontSize":21.5,"labelOffset":19,"labelLimit":800,"rowPadding":8.7,"labelColor":"#000",
                     "labelExpr":"datum.label == 'a' ? 'Complex 1 (0.5 mM) under CO₂' : datum.label == 'b' ? 'Complex 1 (0.5 mM) under CO₂+ 80 mM PhOH' : datum.label == 'c' ? 'Complex 1 (0.5 mM) under CO₂+ 166 mM PhOH' : datum.label == 'd' ? 'Complex 1 (0.5 mM) under CO₂+ 240 mM PhOH' : datum.label == 'e' ? 'Complex 1 (0.5 mM) under CO₂+ 1.3 M PhOH' : datum.label == 'f' ? 'Complex 1 (0.5 mM) under CO₂+ 1.7 M PhOH' : datum.label == 'g' ? 'Complex 1 (0.5 mM) under CO₂+ 2.2 M PhOH' : datum.label == 'h' ? 'Complex 1 (0.5 mM) under CO₂+ 3 M PhOH' : datum.label == 'i' ? 'Complex 1 (0.5 mM) under CO₂+ 4.2 M PhOH' : 'Complex 1 (0.5 mM) under CO₂+ 5.3 M PhOH'"}},
  "order":{"value":null}}},
{"data":{"name":"arrow"},
 "mark":{"type":"rule","color":"#7f7f7f","strokeWidth":2},
 "encoding":{
  "x":{"field":"x1","type":"quantitative","axis":{"orient":"bottom","values":[-2.375,-2.125,-1.875,-1.625,-1.375,-1.125,-0.875,-0.625,-0.375,-0.125,0.125,0.375],"labels":false,"domain":false,"tickSize":5,"tickWidth":2,"title":null}},
  "x2":{"field":"x2"},
  "y":{"field":"y","type":"quantitative","axis":{"orient":"left","values":[-225,-175,-125,-75,-25,25],"labels":false,"domain":false,"tickSize":5,"tickWidth":2,"title":null}}}},
{"data":{"name":"arrow"},
 "mark":{"type":"point","shape":"triangle-left","filled":true,"color":"#303030","size":70,"opacity":1},
 "encoding":{
  "x":{"field":"xh","type":"quantitative","axis":null},
  "y":{"field":"y","type":"quantitative","axis":null}}}
],
"resolve":{"axis":{"x":"independent","y":"independent"}}
}
